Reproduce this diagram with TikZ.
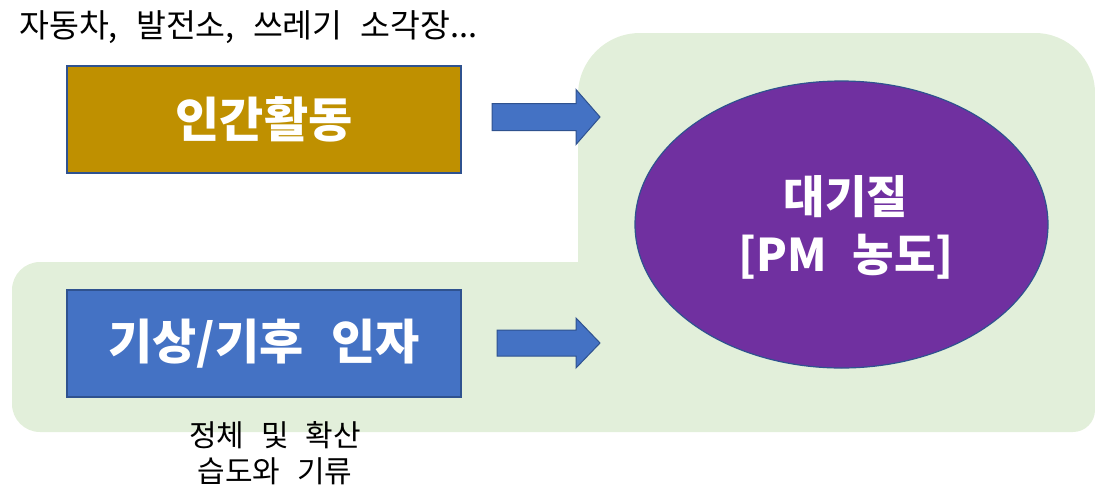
\documentclass[tikz,border=0pt]{standalone}
\usepackage{fontspec}
\setmainfont{Noto Sans CJK KR}
\newfontfamily\boxfont[WordSpace=2]{Noto Sans CJK KR}
\newfontfamily\pmfont[WordSpace=1.7]{Noto Sans CJK KR}
\newfontfamily\notefont[WordSpace=2.5]{Noto Sans CJK KR}
\usetikzlibrary{shapes.geometric}
\definecolor{bggreen}{HTML}{E2EFDA}
\definecolor{boxblue}{HTML}{4472C4}
\definecolor{edgeblue}{HTML}{2F528F}
\definecolor{boxgold}{HTML}{BF9000}
\definecolor{pmpurple}{HTML}{7030A0}
\tikzset{
  factorbox/.style={draw=edgeblue,line width=1.2pt,minimum width=394pt,minimum height=107pt,inner sep=0pt,text=white,font=\boxfont\fontsize{48}{52}\selectfont\bfseries},
  blockarrow/.style={fill=boxblue,draw=edgeblue,line width=1pt,line join=miter},
  note/.style={inner sep=0pt,text=black,font=\notefont\fontsize{30}{36}\selectfont}
}
\begin{document}
\begin{tikzpicture}[x=1pt,y=-1pt]
\useasboundingbox (0,0) rectangle (1095,491);
% green background
\fill[bggreen] (578,95) arc[start angle=180,end angle=270,radius=62] -- (1035,33)
  arc[start angle=270,end angle=360,radius=60] -- (1095,410)
  arc[start angle=0,end angle=90,radius=22] -- (40,432)
  arc[start angle=90,end angle=180,radius=28] -- (12,290)
  arc[start angle=180,end angle=270,radius=28] -- (578,262) -- cycle;
% boxes
\node[factorbox,fill=boxgold] (human) at (264,119.5) {인간활동};
\node[factorbox,fill=boxblue] (weather) at (264,343.5) {기상/기후 인자};
% ellipse
\node[ellipse,draw=edgeblue,line width=1.2pt,fill=pmpurple,minimum width=413pt,minimum height=287pt,inner sep=0pt] (pm) at (841.5,224.5) {};
\node[text=white,font=\pmfont\fontsize{45}{58}\selectfont\bfseries,align=center,inner sep=0pt] (pmtext) at (846,227) {대기질\\{[PM 농도]}};
% texts
\node[note,anchor=west,font=\notefont\fontsize{32.5}{36}\selectfont] (sources) at (19,27) {자동차, 발전소, 쓰레기 소각장...};
\node[note,align=center] (weathernote) at (275,453) {정체 및 확산\\습도와 기류};
% block arrows
\coordinate (a1) at (492,117);
\coordinate (a2) at (497,343);
\draw[blockarrow] (a1) ++(0,-13.5) -- ++(84,0) -- ++(0,-14) -- ++(24,27.5) -- ++(-24,27.5) -- ++(0,-14) -- ++(-84,0) -- cycle;
\draw[blockarrow] (a2) ++(0,-13) -- ++(79,0) -- ++(0,-12) -- ++(24,25) -- ++(-24,25) -- ++(0,-12) -- ++(-79,0) -- cycle;
\end{tikzpicture}
\end{document}
